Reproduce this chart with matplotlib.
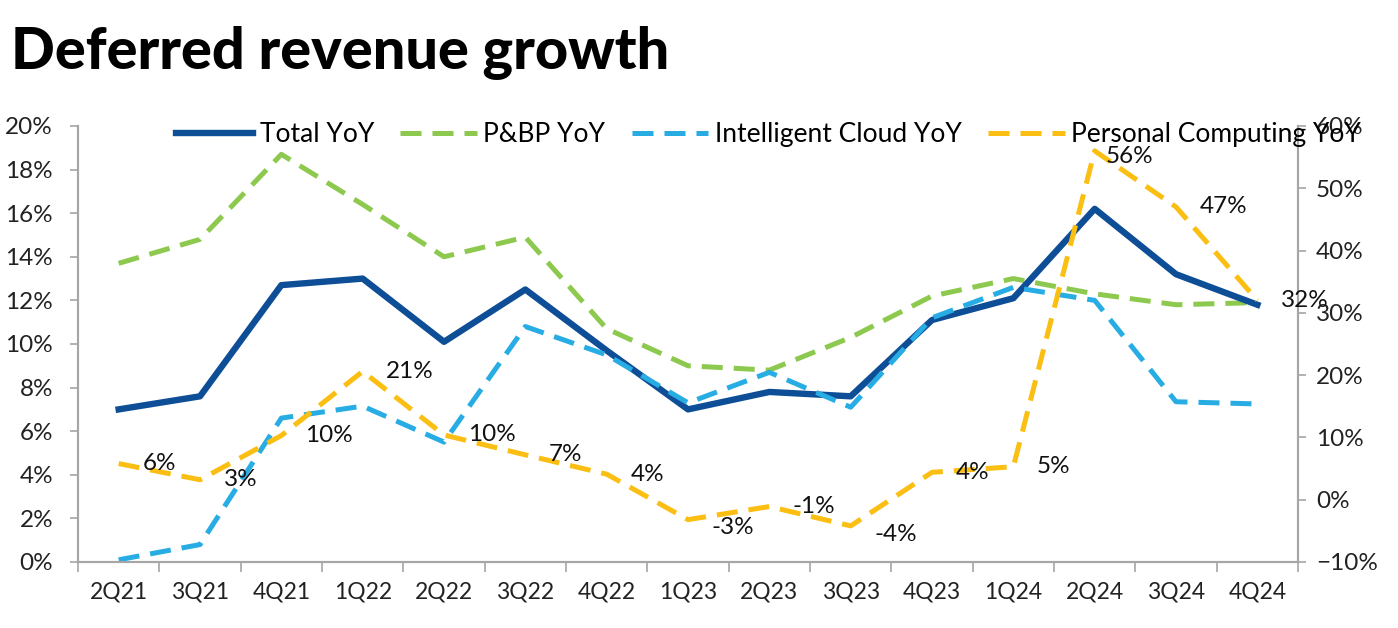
import matplotlib.pyplot as plt
from matplotlib.ticker import PercentFormatter

# quarters on the x axis
quarters = ["2Q21", "3Q21", "4Q21", "1Q22", "2Q22", "3Q22", "4Q22", "1Q23",
            "2Q23", "3Q23", "4Q23", "1Q24", "2Q24", "3Q24", "4Q24"]

# left axis series (%)
total_yoy = [7.0, 7.6, 12.7, 13.0, 10.1, 12.5, 9.7, 7.0, 7.8, 7.6, 11.1, 12.1, 16.2, 13.2, 11.8]
pbp_yoy = [13.7, 14.8, 18.7, 16.4, 14.0, 14.9, 10.7, 9.0, 8.8, 10.3, 12.2, 13.0, 12.3, 11.8, 11.9]
cloud_yoy = [0.1, 0.8, 6.6, 7.15, 5.5, 10.8, 9.5, 7.3, 8.7, 7.1, 11.2, 12.6, 12.0, 7.35, 7.25]

# right axis series (%)
pc_yoy = [5.8, 3.2, 10.3, 20.6, 10.4, 7.2, 4.1, -3.2, -1.1, -4.2, 4.4, 5.3, 56.0, 47.0, 32.0]
pc_labels = ["6%", "3%", "10%", "21%", "10%", "7%", "4%", "-3%", "-1%", "-4%",
             "4%", "5%", "56%", "47%", "32%"]

NAVY = "#0D4E97"
GREEN = "#8DC94E"
BLUE = "#27ADE3"
YELLOW = "#FBBE12"
GRAY = "#A6A6A6"

plt.rcParams["font.family"] = ["Lato", "DejaVu Sans"]

fig = plt.figure(figsize=(13.98, 6.28), dpi=100)
ax = fig.add_axes([0.0558, 0.1051, 0.8727, 0.6943])
ax2 = ax.twinx()

x = list(range(len(quarters)))

ax.plot(x, total_yoy, color=NAVY, lw=4.6, label="Total YoY", zorder=3)
ax.plot(x, pbp_yoy, color=GREEN, lw=3.6, dashes=(4.2, 2.2), label="P&BP YoY", zorder=2)
ax.plot(x, cloud_yoy, color=BLUE, lw=3.6, dashes=(4.2, 2.2), label="Intelligent Cloud YoY", zorder=4)
ax2.plot(x, pc_yoy, color=YELLOW, lw=3.6, dashes=(4.2, 2.2), label="Personal Computing YoY")

# value labels for personal computing
for i, (v, t) in enumerate(zip(pc_yoy, pc_labels)):
    dx, dy = 17, 0
    if t in ("-3%", "-4%"):
        dy = -6
    if i == 12:
        dx, dy = 8, -4
    ax2.annotate(t, (i, v), xytext=(dx, dy), textcoords="offset points",
                 ha="left", va="center", fontsize=17.5, color="#111111")

ax.set_xlim(-0.5, len(quarters) - 0.5)
ax.set_ylim(0, 20)
ax2.set_ylim(-10, 60)
ax.set_yticks(range(0, 21, 2))
ax2.set_yticks(range(-10, 61, 10))
ax.yaxis.set_major_formatter(PercentFormatter(decimals=0))
ax2.yaxis.set_major_formatter(PercentFormatter(decimals=0))

ax.set_xticks(x)
ax.set_xticklabels(quarters)
ax.set_xticks([i - 0.5 for i in range(len(quarters) + 1)], minor=True)
ax.tick_params(axis="x", which="major", length=0, pad=14, labelsize=16.5, labelcolor="#222222")
ax.tick_params(axis="x", which="minor", length=7, color=GRAY, width=1.2)
ax.tick_params(axis="y", length=6, color=GRAY, width=1.2, labelsize=17.5, labelcolor="#222222", pad=12)
ax2.tick_params(axis="y", length=6, color=GRAY, width=1.2, labelsize=17.5, labelcolor="#222222", pad=7)

for a in (ax, ax2):
    a.spines["top"].set_visible(False)
    for s in ("left", "right", "bottom"):
        a.spines[s].set_color(GRAY)
        a.spines[s].set_linewidth(1.5)

h1, l1 = ax.get_legend_handles_labels()
h2, l2 = ax2.get_legend_handles_labels()
ax2.legend(h1 + h2, l1 + l2, ncol=4, frameon=False, fontsize=19,
           loc="center left", bbox_to_anchor=(0.072, 0.98), handlelength=2.9,
           columnspacing=1.0, handletextpad=0.25, borderaxespad=0)

fig.text(0.008, 0.915, "Deferred revenue growth", fontsize=41.5, fontweight="black",
         family=["Lato", "DejaVu Sans"], va="center", ha="left", color="#000000")

fig.savefig("out.png", dpi=100)
